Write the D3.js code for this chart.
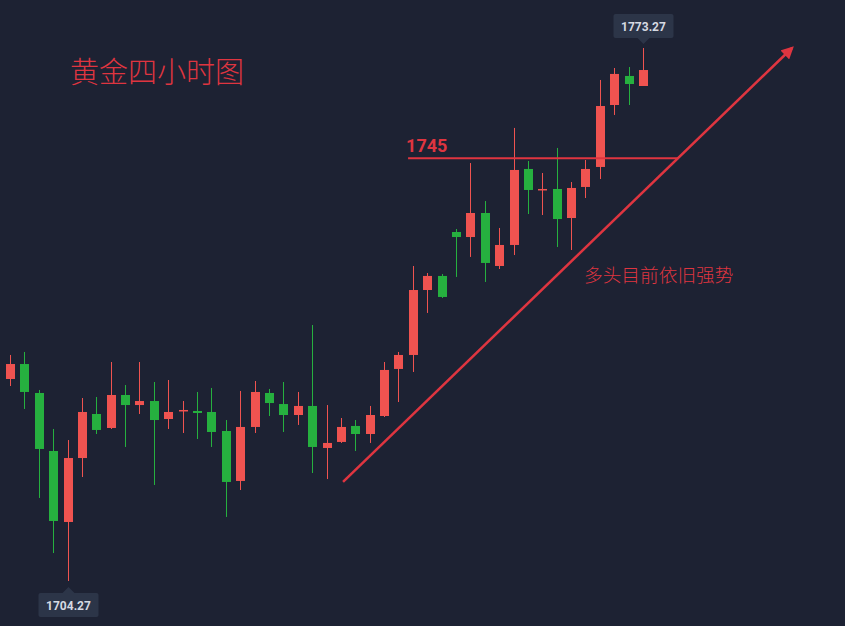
<!DOCTYPE html>
<html><head><meta charset="utf-8">
<script src="https://cdn.jsdelivr.net/npm/d3@7/dist/d3.min.js"></script>
<style>html,body{margin:0;padding:0;background:#1d2233;}svg{display:block;}</style>
</head><body>
<svg id="c" width="845" height="626"></svg>
<script>
// ---- data (4-hour gold candles) ----
const opens  = [1730.42,1732.36,1728.61,1721.10,1711.91,1720.19,1725.89,1724.08,1728.35,1727.05,1727.57,1725.24,1726.28,1726.28,1726.15,1723.69,1717.22,1724.21,1728.61,1727.18,1725.76,1726.93,1721.49,1722.27,1724.34,1723.30,1725.63,1731.72,1733.53,1741.94,1743.76,1749.45,1748.80,1751.91,1745.05,1747.77,1757.61,1754.89,1755.02,1751.26,1755.28,1757.87,1765.89,1769.65,1768.35];
const highs  = [1733.53,1733.92,1729.00,1723.95,1722.52,1727.96,1728.09,1732.62,1729.64,1732.62,1730.03,1730.29,1727.57,1728.74,1729.26,1725.11,1728.87,1730.16,1729.13,1730.03,1728.74,1737.41,1727.05,1725.37,1725.11,1726.93,1732.62,1733.92,1745.05,1744.14,1744.01,1749.84,1758.38,1753.46,1749.97,1762.92,1758.64,1757.09,1760.33,1755.92,1758.77,1769.13,1770.68,1770.81,1773.27];
const lows   = [1729.51,1726.54,1715.02,1707.89,1704.27,1717.73,1723.30,1723.95,1721.62,1725.89,1716.70,1723.95,1723.43,1722.65,1721.62,1712.56,1716.05,1723.43,1725.63,1723.56,1724.47,1718.25,1717.47,1722.14,1721.10,1722.14,1725.50,1727.44,1731.33,1738.97,1740.91,1743.63,1746.22,1742.98,1744.66,1746.47,1751.78,1751.65,1747.51,1747.12,1753.85,1756.31,1764.60,1765.89,1768.35];
const closes = [1732.36,1728.74,1721.36,1712.04,1720.19,1726.15,1723.82,1728.35,1727.05,1727.57,1725.11,1726.15,1726.41,1726.02,1723.56,1717.09,1724.21,1728.74,1727.31,1725.76,1726.93,1721.62,1722.14,1724.21,1723.30,1725.76,1731.59,1733.53,1741.94,1743.76,1741.04,1748.80,1751.91,1745.44,1747.77,1757.48,1754.89,1755.02,1751.13,1755.15,1757.61,1765.76,1769.91,1768.61,1770.42];
const idx = opens.map((_, i) => i);

const titleText = "黄金四小时图";
const resistLabel = "1745";
const resistLevel = 1759.0;          // drawn position of the 1745 line
const resistRange = [27.67, 46.43];  // candle index span of the line
const noteText = "多头目前依旧强势";
const trendFrom = [23.15, 1717.1];
const trendTo = [54.36, 1773.27];
const lowLabel = "1704.27", lowIndex = 4, lowValue = 1704.27;
const highLabel = "1773.27", highIndex = 44, highValue = 1773.27;

// ---- drawing ----
const W = 845, H = 626;
const RED = "#ef5350", GREEN = "#26b03f", ANN = "#df3540";
const svg = d3.select("#c");
svg.append("rect").attr("width", W).attr("height", H).attr("fill", "#1d2233");

const x = d3.scaleLinear().domain([0, idx.length - 1]).range([10, 643]);
const y = d3.scaleLinear().domain([1704.27, 1773.27]).range([581, 48]);
const bw = 9;

const candles = idx.map(i => ({i, o: opens[i], h: highs[i], l: lows[i], c: closes[i]}));
const g = svg.append("g");
const cg = g.selectAll("g.c").data(candles).join("g").attr("class", "c");
cg.append("line")
  .attr("x1", d => Math.round(x(d.i)) + 0.5).attr("x2", d => Math.round(x(d.i)) + 0.5)
  .attr("y1", d => y(d.h)).attr("y2", d => y(d.l))
  .attr("stroke", d => d.c >= d.o ? RED : GREEN).attr("stroke-width", 1);
cg.append("rect")
  .attr("x", d => Math.round(x(d.i)) + 0.5 - bw / 2)
  .attr("width", bw)
  .attr("y", d => y(Math.max(d.o, d.c)))
  .attr("height", d => Math.max(1.5, Math.abs(y(d.o) - y(d.c))))
  .attr("fill", d => d.c >= d.o ? RED : GREEN);

// resistance line
svg.append("line")
  .attr("x1", x(resistRange[0])).attr("x2", x(resistRange[1]))
  .attr("y1", y(resistLevel)).attr("y2", y(resistLevel))
  .attr("stroke", ANN).attr("stroke-width", 2);
svg.append("text").attr("x", x(resistRange[0]) - 2).attr("y", y(resistLevel) - 6)
  .attr("fill", ANN).attr("font-family", "Roboto, 'DejaVu Sans', sans-serif")
  .attr("font-weight", "bold").attr("font-size", 18).text(resistLabel);

// trend arrow
const defs = svg.append("defs");
defs.append("marker").attr("id", "ah").attr("viewBox", "0 0 10 10")
  .attr("refX", 8).attr("refY", 5).attr("markerWidth", 5).attr("markerHeight", 5)
  .attr("orient", "auto").attr("markerUnits", "strokeWidth")
  .append("path").attr("d", "M0,0 L10,5 L0,10 z").attr("fill", ANN);
svg.append("line")
  .attr("x1", x(trendFrom[0])).attr("y1", y(trendFrom[1]))
  .attr("x2", x(trendTo[0])).attr("y2", y(trendTo[1]))
  .attr("stroke", ANN).attr("stroke-width", 2.5).attr("marker-end", "url(#ah)");

// texts
svg.append("text").attr("x", 70).attr("y", 83).attr("fill", ANN)
  .attr("font-family", "'Noto Sans CJK SC', sans-serif").attr("font-weight", 300)
  .attr("font-size", 29).text(titleText);
svg.append("text").attr("x", 584).attr("y", 282).attr("fill", ANN)
  .attr("font-family", "'Noto Sans CJK SC', sans-serif").attr("font-weight", 300)
  .attr("font-size", 18.7).text(noteText);

// price tags
function tag(label, i, v, below) {
  const cx = Math.round(x(i)) + 0.5, py = y(v);
  const bwid = 60, bh = 24, gap = 6;
  const gt = svg.append("g");
  const top = below ? py + 12 : py - 10 - bh;
  gt.append("rect").attr("x", cx - bwid / 2).attr("y", top).attr("width", bwid).attr("height", bh)
    .attr("rx", 2).attr("fill", "#2c3548");
  const tp = below
    ? `M${cx - gap},${top} L${cx},${top - gap} L${cx + gap},${top} Z`
    : `M${cx - gap},${top + bh} L${cx},${top + bh + gap} L${cx + gap},${top + bh} Z`;
  gt.append("path").attr("d", tp).attr("fill", "#2c3548");
  gt.append("text").attr("x", cx).attr("y", top + bh / 2 + 4.5).attr("text-anchor", "middle")
    .attr("fill", "#d6dae2").attr("font-family", "Roboto, 'DejaVu Sans', sans-serif")
    .attr("font-weight", "bold").attr("font-size", 12).text(label);
}
tag(lowLabel, lowIndex, lowValue, true);
tag(highLabel, highIndex, highValue, false);
</script>
</body></html>
